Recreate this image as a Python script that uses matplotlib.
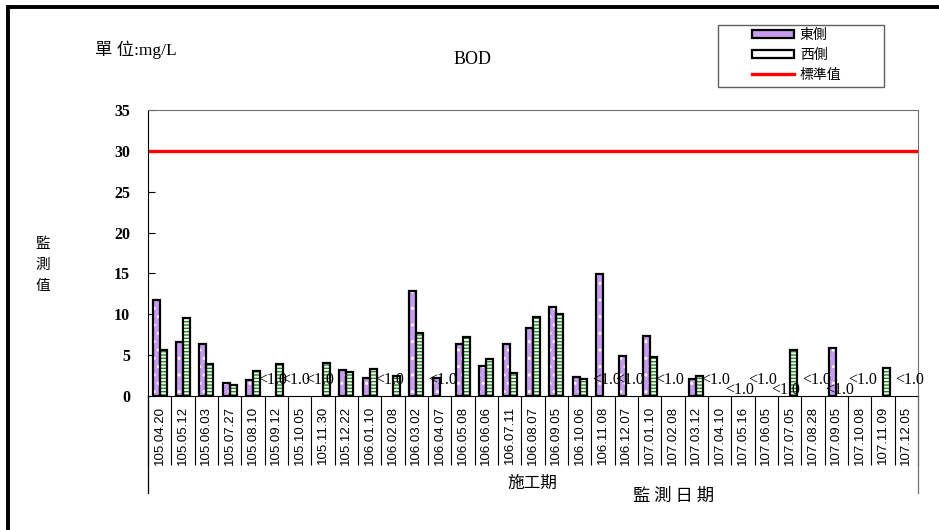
import numpy as np
import matplotlib.pyplot as plt
from matplotlib.lines import Line2D
from matplotlib.patches import Patch, Rectangle

dates = ['105.04.20', '105.05.12', '105.06.03', '105.07.27', '105.08.10', '105.09.12',
         '105.10.05', '105.11.30', '105.12.22', '106.01.10', '106.02.08', '106.03.02',
         '106.04.07', '106.05.08', '106.06.06', '106.07.11', '106.08.07', '106.09.05',
         '106.10.06', '106.11.08', '106.12.07', '107.01.10', '107.02.08', '107.03.12',
         '107.04.10', '107.05.16', '107.06.05', '107.07.05', '107.08.28', '107.09.05',
         '107.10.08', '107.11.09', '107.12.05']
east = [11.8, 6.6, 6.4, 1.6, 2.0, None, None, None, 3.2, 2.2, None, 12.8,
        2.2, 6.4, 3.7, 6.4, 8.3, 10.9, 2.3, 14.9, 4.9, 7.3, None, 2.1,
        None, None, None, None, None, 5.9, None, None, None]
west = [5.6, 9.5, 3.9, 1.4, 3.0, 3.9, None, 4.0, 2.9, 3.3, 2.4, 7.7,
        None, 7.2, 4.5, 2.8, 9.7, 10.0, 2.1, None, None, 4.8, None, 2.4,
        None, None, None, 5.6, None, None, None, 3.4, None]
standard = 30
# below-detection notes ("<1.0") and which side they belong to
nd_east = ['105.09.12', '105.10.05', '105.11.30', '106.02.08', '107.02.08',
           '107.04.10', '107.05.16', '107.06.05', '107.07.05']
nd_west = ['106.04.07', '106.11.08', '106.12.07', '107.08.28', '107.09.05',
           '107.10.08', '107.12.05']
nd_low = ['107.05.16', '107.07.05', '107.09.05']

W, H = 939, 530
fig = plt.figure(figsize=(W / 100, H / 100), dpi=100)
ax = fig.add_axes([148 / W, 1 - 396 / H, 770 / W, 286 / H])

cjk = 'Noto Sans CJK TC'
serif = 'Liberation Serif'

x = np.arange(len(dates))
e = np.array([np.nan if v is None else v for v in east])
w = np.array([np.nan if v is None else v for v in west])
bw = 0.3
purple = '#C79BF0'
green = '#1E8A1E'

# fills with hatch, then black outlines on top
ax.bar(x - bw / 2, e, bw, color=purple, edgecolor='white', hatch='..', lw=0, zorder=2)
ax.bar(x + bw / 2, w, bw, color='white', edgecolor=green, hatch='-----', lw=0, zorder=2)
ax.bar(x - bw / 2, e, bw, fill=False, edgecolor='black', lw=1.6, zorder=3)
ax.bar(x + bw / 2, w, bw, fill=False, edgecolor='black', lw=1.6, zorder=3)
ax.axhline(standard, xmin=0.003, xmax=0.997, color='#FF0000', lw=2.4, zorder=4)

for d in nd_east + nd_west:
    i = dates.index(d)
    xo = i - bw / 2 if d in nd_east else i + bw / 2
    yv = 0.7 if d in nd_low else 1.9
    ax.text(xo, yv, '<1.0', ha='center', va='center', fontsize=11.5,
            family=serif, zorder=5)

ax.set_xlim(-0.5, len(dates) - 0.5)
ax.set_ylim(0, 35)
ax.set_yticks(np.arange(0, 36, 5))
ax.tick_params(axis='y', direction='in', length=5, pad=13, labelsize=11.5)
for lab in ax.get_yticklabels():
    lab.set_family(serif)
    lab.set_fontweight('bold')
ax.set_xticks(x)
ax.set_xticklabels(dates, rotation=90, family='Liberation Sans', fontsize=9.5)
ax.tick_params(axis='x', length=0, pad=7)
ax.set_xticks(np.arange(-0.5, len(dates), 1), minor=True)
ax.tick_params(axis='x', which='minor', direction='out', length=50, width=0.8)
for s in ['top', 'right']:
    ax.spines[s].set_color('#707070')

# category box sides
fig.add_artist(Line2D([148 / W, 148 / W], [1 - 396 / H, 1 - 493 / H], color='black', lw=0.9))
fig.add_artist(Line2D([918 / W, 918 / W], [1 - 396 / H, 1 - 493 / H], color='#707070', lw=0.9))
# outer frame
fig.add_artist(Line2D([7.5 / W, 1], [1 - 7 / H, 1 - 7 / H], color='black', lw=2.8))
fig.add_artist(Line2D([7.5 / W, 7.5 / W], [0, 1 - 7 / H], color='black', lw=2.8))

fig.text(95 / W, 1 - 50 / H, '單 位:mg/L', family=[serif, cjk], fontsize=12.5, va='center')
fig.text(473 / W, 1 - 60 / H, 'BOD', family=serif, fontsize=13, ha='center', va='center')
fig.text(43 / W, 1 - 265 / H, '監\n測\n值', family=cjk, fontsize=10.5, ha='center',
         va='center', linespacing=1.65)
fig.text(532 / W, 1 - 483 / H, '施工期', family=cjk, fontsize=12, ha='center', va='center')
fig.text(674 / W, 1 - 496 / H, '監 測 日 期', family=cjk, fontsize=12.5, ha='center', va='center')

# legend: entries plus a separate wide frame
fig.add_artist(Rectangle((718 / W, 1 - 87 / H), 166 / W, 62 / H, transform=fig.transFigure,
                         fill=False, edgecolor='#606060', lw=1.0))
handles = [Patch(facecolor=purple, edgecolor='black', lw=1.6),
           Patch(facecolor='white', edgecolor='black', lw=1.6),
           Line2D([], [], color='#FF0000', lw=2.4)]
fig.legend(handles, ['東側', '西側', '標準值'], loc='upper left',
           bbox_to_anchor=(752 / W, 1 - 28 / H), prop={'family': cjk, 'size': 10},
           frameon=False, handlelength=3.0, handleheight=0.55,
           borderpad=0, labelspacing=0.42, borderaxespad=0, handletextpad=0.45)

fig.savefig('out.png', dpi=100)
